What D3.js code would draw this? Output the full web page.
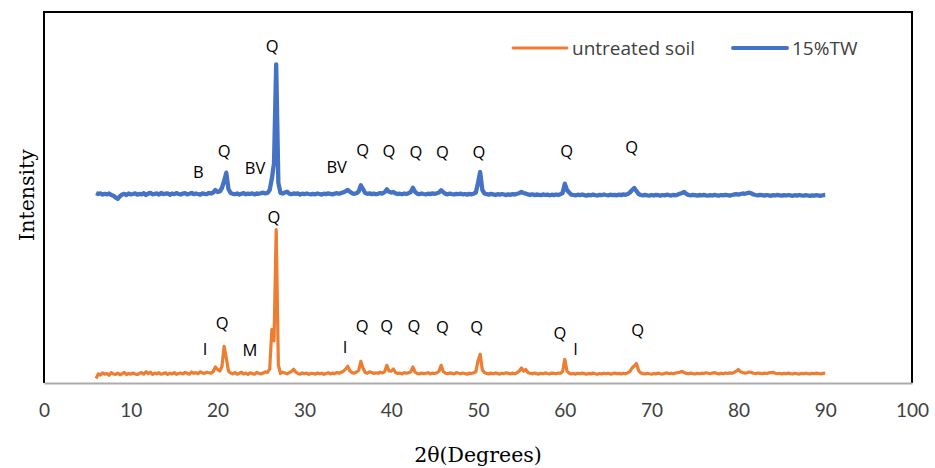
<!DOCTYPE html>
<html>
<head>
<meta charset="utf-8">
<script src="https://cdn.jsdelivr.net/npm/d3@7"></script>
<style>
  html, body { margin: 0; padding: 0; background: #fff; }
  svg { display: block; }
</style>
</head>
<body>
<svg id="chart" width="935" height="468"></svg>
<script>
// XRD scan: 2θ from 6° to 90° in 0.25° steps
const scanStart = 6;
const scanStep = 0.25;

// Untreated soil, counts
const untreatedCounts = [
  45, 92, 80, 101, 88, 95, 78, 104, 90, 86, 99, 82, 93, 107, 85, 96, 88, 100, 91, 84,
  97, 105, 89, 112, 94, 108, 86, 99, 92, 103, 88, 96, 101, 85, 98, 90, 104, 87, 95, 100,
  92, 106, 98, 88, 110, 97, 104, 93, 112, 101, 95, 108, 103, 98, 115, 160, 135, 120, 165, 367,
  250, 120, 100, 92, 105, 88, 97, 108, 90, 99, 86, 102, 94, 88, 106, 97, 91, 100, 112, 105,
  140, 537, 420, 1535, 180, 95, 108, 99, 92, 104, 115, 137, 110, 96, 88, 101, 93, 99, 87, 96,
  95, 89, 100, 92, 98, 87, 96, 103, 91, 99, 94, 105, 98, 108, 118, 140, 167, 120, 104, 98,
  110, 125, 217, 150, 105, 98, 112, 104, 95, 102, 97, 108, 100, 115, 177, 120, 118, 140, 105, 96,
  99, 92, 104, 97, 101, 112, 160, 108, 95, 90, 100, 93, 98, 104, 91, 99, 95, 102, 118, 177,
  115, 98, 93, 101, 96, 90, 104, 97, 92, 100, 95, 88, 99, 94, 102, 112, 220, 287, 130, 102,
  96, 91, 99, 93, 101, 95, 89, 98, 94, 102, 96, 90, 99, 93, 104, 120, 150, 118, 135, 105,
  97, 92, 100, 94, 89, 98, 93, 101, 95, 90, 99, 96, 92, 100, 97, 115, 237, 120, 98, 90,
  95, 89, 97, 92, 100, 94, 88, 96, 91, 99, 93, 87, 95, 90, 98, 92, 97, 89, 94, 100,
  92, 96, 90, 98, 94, 101, 115, 150, 170, 195, 125, 100, 94, 90, 97, 92, 88, 95, 91, 99,
  93, 89, 96, 101, 94, 98, 92, 100, 104, 108, 117, 105, 96, 92, 99, 94, 90, 97, 93, 98,
  95, 102, 97, 92, 99, 104, 96, 91, 98, 93, 100, 95, 101, 97, 106, 118, 135, 112, 104, 99,
  103, 110, 106, 98, 94, 100, 96, 92, 99, 95, 101, 104, 107, 98, 93, 97, 91, 96, 92, 99,
  94, 90, 97, 93, 89, 96, 92, 98, 94, 90, 97, 93, 99, 95, 91, 98, 96
];

// Soil with 15% TW, counts
const treatedCounts = [
  100, 90, 96, 84, 92, 86, 95, 80, 72, 55, 42, 68, 85, 92, 80, 95, 86, 90, 97, 83,
  92, 86, 98, 80, 94, 101, 87, 91, 96, 84, 100, 89, 93, 97, 82, 95, 88, 99, 90, 85,
  94, 98, 86, 92, 101, 88, 95, 90, 84, 97, 92, 88, 100, 95, 105, 130, 110, 115, 150, 220,
  303, 140, 100, 92, 88, 96, 85, 93, 99, 87, 94, 90, 97, 86, 95, 92, 98, 103, 96, 100,
  130, 243, 400, 1387, 200, 100, 95, 105, 113, 94, 88, 96, 91, 97, 85, 93, 88, 95, 90, 86,
  92, 87, 95, 90, 84, 93, 89, 96, 91, 86, 94, 98, 92, 100, 108, 118, 130, 112, 97, 92,
  98, 115, 177, 140, 100, 92, 96, 89, 94, 87, 93, 98, 95, 108, 137, 112, 104, 110, 96, 90,
  93, 87, 95, 90, 98, 110, 153, 112, 94, 88, 95, 90, 86, 93, 89, 96, 91, 97, 105, 127,
  108, 92, 87, 94, 89, 85, 92, 88, 94, 86, 90, 84, 91, 87, 93, 105, 200, 310, 130, 95,
  88, 84, 91, 86, 80, 88, 83, 90, 85, 79, 87, 82, 89, 84, 92, 98, 110, 100, 94, 86,
  81, 87, 79, 85, 82, 78, 86, 80, 84, 77, 83, 79, 85, 80, 88, 100, 193, 130, 105, 84,
  80, 76, 83, 78, 85, 79, 74, 81, 77, 84, 79, 75, 82, 78, 85, 80, 76, 83, 78, 81,
  77, 84, 79, 86, 82, 90, 105, 130, 150, 120, 90, 80, 76, 82, 77, 74, 80, 75, 82, 78,
  74, 80, 76, 83, 78, 75, 81, 77, 84, 92, 100, 110, 92, 80, 76, 82, 78, 74, 80, 77,
  82, 76, 73, 79, 75, 81, 77, 73, 80, 76, 82, 78, 74, 80, 85, 88, 84, 90, 95, 92,
  98, 103, 96, 85, 80, 76, 82, 78, 74, 80, 76, 72, 79, 75, 81, 77, 73, 79, 75, 80,
  76, 72, 78, 74, 80, 76, 73, 79, 75, 71, 77, 74, 79, 75, 72, 78, 80
];

// Vertical offset that stacks the treated pattern above the untreated one
const treatedOffset = 1800;

// Phase labels: [phase, 2θ, counts at label centre]
const untreatedPhases = [
  ["Q", 26.50, 1663], ["I", 18.55, 347], ["Q", 20.54, 603], ["M", 23.73, 337],
  ["I", 34.68, 363], ["Q", 36.67, 580], ["Q", 39.48, 580], ["Q", 42.63, 580],
  ["Q", 45.89, 570], ["Q", 49.85, 563], ["Q", 59.45, 507], ["I", 61.25, 347],
  ["Q", 68.40, 540]
];
const treatedPhases = [
  ["Q", 26.30, 1580], ["B", 17.78, 313], ["Q", 20.77, 530], ["BV", 24.31, 357],
  ["BV", 33.72, 363], ["Q", 36.72, 537], ["Q", 39.75, 530], ["Q", 42.86, 513],
  ["Q", 45.89, 513], ["Q", 50.12, 513], ["Q", 60.22, 523], ["Q", 67.71, 563]
];

const xTicks = [0, 10, 20, 30, 40, 50, 60, 70, 80, 90, 100];
const seriesNames = ["untreated soil", "15%TW"];
const seriesColors = ["#ED7D31", "#4472C4"];
const seriesWidths = [3.2, 4.3];

const svg = d3.select("#chart");
const plot = { left: 44, right: 912, top: 12, bottom: 383 };

const x = d3.scaleLinear().domain([0, 100]).range([plot.left, plot.right]);
const y = d3.scaleLinear().domain([0, 3710]).range([plot.bottom, plot.top]);

const toPoints = (counts, offset) =>
  counts.map((c, i) => [scanStart + i * scanStep, c + offset]);

const line = d3.line().x(d => x(d[0])).y(d => y(d[1]));

// Patterns
svg.append("path")
  .attr("d", line(toPoints(untreatedCounts, 0)))
  .attr("fill", "none")
  .attr("stroke", seriesColors[0])
  .attr("stroke-width", seriesWidths[0])
  .attr("stroke-linejoin", "round");

svg.append("path")
  .attr("d", line(toPoints(treatedCounts, treatedOffset)))
  .attr("fill", "none")
  .attr("stroke", seriesColors[1])
  .attr("stroke-width", seriesWidths[1])
  .attr("stroke-linejoin", "round");

// Frame
svg.append("path")
  .attr("d", `M${plot.left},${plot.bottom}V${plot.top}H${plot.right}V${plot.bottom}`)
  .attr("fill", "none")
  .attr("stroke", "#000")
  .attr("stroke-width", 2);

// Bottom axis
const xAxis = svg.append("g")
  .attr("transform", `translate(0,${plot.bottom})`)
  .call(d3.axisBottom(x).tickValues(xTicks).tickSize(0).tickPadding(21));
xAxis.select(".domain")
  .attr("stroke", "#ABABAB")
  .attr("stroke-width", 2);
xAxis.selectAll("text")
  .attr("font-family", "Lato, 'Open Sans', sans-serif")
  .attr("font-size", 19)
  .attr("fill", "#404040");

// Axis titles
svg.append("text")
  .attr("x", (plot.left + plot.right) / 2)
  .attr("y", 455)
  .attr("text-anchor", "middle")
  .attr("dominant-baseline", "central")
  .attr("font-family", "'DejaVu Serif', serif")
  .attr("font-size", 20.5)
  .attr("fill", "#000")
  .text("2θ(Degrees)");

svg.append("text")
  .attr("transform", "translate(27,195) rotate(-90)")
  .attr("text-anchor", "middle")
  .attr("dominant-baseline", "central")
  .attr("font-family", "'DejaVu Serif', serif")
  .attr("font-size", 20.5)
  .attr("fill", "#000")
  .text("Intensity");

// Phase labels
const labelFont = "'Open Sans', sans-serif";
function drawPhases(list, offset) {
  svg.append("g").selectAll("text")
    .data(list)
    .join("text")
    .attr("x", d => x(d[1]))
    .attr("y", d => y(d[2] + offset))
    .attr("text-anchor", "middle")
    .attr("dominant-baseline", "central")
    .attr("font-family", labelFont)
    .attr("font-size", 16.5)
    .attr("fill", "#000")
    .text(d => d[0]);
}
drawPhases(untreatedPhases, 0);
drawPhases(treatedPhases, treatedOffset);

// Legend
const legend = svg.append("g");
const legendItems = [
  { name: seriesNames[0], color: seriesColors[0], width: 2.8, x0: 513 },
  { name: seriesNames[1], color: seriesColors[1], width: 4, x0: 733 }
];
legendItems.forEach(item => {
  legend.append("line")
    .attr("x1", item.x0).attr("x2", item.x0 + 54)
    .attr("y1", 48).attr("y2", 48)
    .attr("stroke", item.color)
    .attr("stroke-width", item.width)
    .attr("stroke-linecap", "round");
  legend.append("text")
    .attr("x", item.x0 + 59)
    .attr("y", 48)
    .attr("dominant-baseline", "central")
    .attr("font-family", labelFont)
    .attr("font-size", 19)
    .attr("fill", "#404040")
    .text(item.name);
});
</script>
</body>
</html>
